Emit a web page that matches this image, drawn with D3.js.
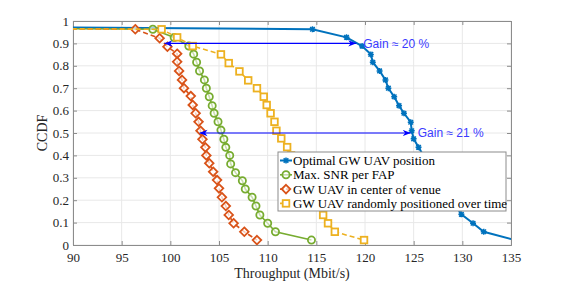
<!DOCTYPE html>
<html>
<head>
<meta charset="utf-8">
<script src="https://cdn.jsdelivr.net/npm/d3@7"></script>
<style>
  html, body { margin: 0; padding: 0; background: #fff; }
  svg { display: block; }
</style>
</head>
<body>
<div id="chart"></div>
<script>
// throughput (Mbit/s) and CCDF values
const optX = [80, 114.6, 118.1, 119.7, 120.6, 120.8, 121.5, 122.1, 122.4, 123.0, 123.5, 124.0, 124.7, 124.8, 125.0, 125.5, 126.0, 126.4, 126.9, 127.5, 128.1, 128.7, 129.3, 129.9, 131.1, 132.2, 136.0];
const optY = [0.975, 0.963, 0.927, 0.888, 0.851, 0.816, 0.777, 0.737, 0.700, 0.662, 0.622, 0.588, 0.548, 0.510, 0.474, 0.436, 0.400, 0.363, 0.326, 0.289, 0.252, 0.215, 0.178, 0.137, 0.097, 0.059, 0.015];

const snrX = [80, 98.2, 100.4, 101.9, 102.4, 102.7, 103.0, 103.5, 103.7, 104.0, 104.3, 104.5, 104.9, 105.2, 105.5, 105.7, 106.1, 106.2, 106.7, 107.4, 107.7, 108.4, 108.8, 109.2, 110.0, 110.8, 114.5];
const snrY = [0.968, 0.963, 0.926, 0.888, 0.852, 0.816, 0.777, 0.737, 0.700, 0.662, 0.622, 0.588, 0.550, 0.513, 0.472, 0.436, 0.400, 0.362, 0.323, 0.287, 0.250, 0.213, 0.174, 0.134, 0.097, 0.059, 0.022];

const ctrX = [80, 96.4, 98.9, 99.7, 100.7, 100.7, 100.9, 101.2, 101.4, 102.1, 102.3, 102.6, 102.9, 103.1, 103.3, 103.6, 103.7, 104.0, 104.4, 104.8, 105.0, 105.3, 105.7, 106.0, 106.5, 107.6, 108.9];
const ctrY = [0.967, 0.963, 0.923, 0.885, 0.854, 0.818, 0.777, 0.737, 0.700, 0.665, 0.625, 0.588, 0.550, 0.510, 0.472, 0.436, 0.400, 0.365, 0.327, 0.290, 0.253, 0.213, 0.174, 0.134, 0.097, 0.059, 0.022];

const rndX = [80, 99.1, 100.7, 102.3, 105.2, 106.0, 107.1, 108.0, 108.9, 109.6, 109.9, 110.3, 110.7, 110.9, 111.4, 112.0, 112.4, 112.9, 113.3, 113.8, 114.3, 114.8, 115.3, 115.7, 116.2, 116.9, 119.9];
const rndY = [0.967, 0.963, 0.927, 0.888, 0.851, 0.812, 0.775, 0.735, 0.700, 0.662, 0.625, 0.588, 0.550, 0.510, 0.476, 0.437, 0.400, 0.362, 0.325, 0.288, 0.250, 0.212, 0.174, 0.134, 0.097, 0.059, 0.022];

const xTicks = [90, 95, 100, 105, 110, 115, 120, 125, 130, 135];
const yTicks = [0, 0.1, 0.2, 0.3, 0.4, 0.5, 0.6, 0.7, 0.8, 0.9, 1];

const seriesNames = ['Optimal GW UAV position', 'Max. SNR per FAP', 'GW UAV in center of venue', 'GW UAV randomly positioned over time'];
const seriesColors = ['#0072BD', '#77AC30', '#D95319', '#EDB120'];

const gains = [
  { x0: 99.4, x1: 119.1, y: 0.9, label: 'Gain \u2248 20 %' },
  { x0: 103.0, x1: 124.7, y: 0.5, label: 'Gain \u2248 21 %' }
];

const width = 565, height = 283;
const margin = { top: 21, right: 54, bottom: 38, left: 73 };
const serif = '"Liberation Serif", "Times New Roman", serif';

const svg = d3.select('#chart').append('svg')
  .attr('width', width).attr('height', height)
  .attr('font-family', serif);

const x = d3.scaleLinear().domain([90, 135]).range([margin.left, width - margin.right]);
const y = d3.scaleLinear().domain([0, 1]).range([height - margin.bottom, margin.top]);

svg.append('defs').append('clipPath').attr('id', 'clip')
  .append('rect')
  .attr('x', margin.left).attr('y', margin.top)
  .attr('width', x(135) - x(90)).attr('height', y(0) - y(1));

// grid
const grid = svg.append('g').attr('stroke', '#e8e8e8').attr('stroke-width', 1);
grid.selectAll('line.gx').data(xTicks).join('line')
  .attr('x1', d => x(d)).attr('x2', d => x(d)).attr('y1', y(0)).attr('y2', y(1));
grid.selectAll('line.gy').data(yTicks).join('line')
  .attr('y1', d => y(d)).attr('y2', d => y(d)).attr('x1', x(90)).attr('x2', x(135));

// axes
const axisCol = '#262626';
const gx = svg.append('g').attr('transform', `translate(0,${y(0)})`)
  .call(d3.axisBottom(x).tickValues(xTicks).tickSize(-4).tickPadding(6));
const gxTop = svg.append('g').attr('transform', `translate(0,${y(1)})`)
  .call(d3.axisTop(x).tickValues(xTicks).tickSize(-4).tickFormat(''));
const gy = svg.append('g').attr('transform', `translate(${x(90)},0)`)
  .call(d3.axisLeft(y).tickValues(yTicks).tickSize(-4).tickPadding(4).tickFormat(d => d === 0 || d === 1 ? d : d3.format('.1f')(d)));
const gyR = svg.append('g').attr('transform', `translate(${x(135)},0)`)
  .call(d3.axisRight(y).tickValues(yTicks).tickSize(-4).tickFormat(''));
[gx, gxTop, gy, gyR].forEach(g => {
  g.attr('font-family', serif).attr('font-size', 13);
  g.select('.domain').attr('stroke', '#8c8c8c');
  g.selectAll('.tick line').attr('stroke', '#8c8c8c');
  g.selectAll('.tick text').attr('fill', axisCol);
});
gx.selectAll('.tick text').attr('dy', '0.85em');

svg.append('text').attr('x', (x(90) + x(135)) / 2).attr('y', 278)
  .attr('text-anchor', 'middle').attr('fill', axisCol).attr('font-size', 14)
  .text('Throughput (Mbit/s)');
svg.append('text').attr('transform', `translate(42,${(y(0) + y(1)) / 2}) rotate(-90)`)
  .attr('text-anchor', 'middle').attr('dy', '0.35em').attr('fill', axisCol).attr('font-size', 14)
  .text('CCDF');

// series
const allSeries = [
  { xs: optX, ys: optY, dash: null, marker: 'star', lw: 2 },
  { xs: snrX, ys: snrY, dash: null, marker: 'circle', lw: 1.6 },
  { xs: ctrX, ys: ctrY, dash: '5,3', marker: 'diamond', lw: 1.6 },
  { xs: rndX, ys: rndY, dash: '5,3', marker: 'square', lw: 1.6 }
];

const line = d3.line().x(d => x(d[0])).y(d => y(d[1]));
const plot = svg.append('g').attr('clip-path', 'url(#clip)');

function drawMarker(g, type, color) {
  if (type === 'star') {
    g.append('path').attr('d', 'M-3,0H3M0,-3V3M-2.3,-2.3L2.3,2.3M-2.3,2.3L2.3,-2.3')
      .attr('stroke', color).attr('stroke-width', 1.5).attr('fill', 'none');
  } else if (type === 'circle') {
    g.append('circle').attr('r', 3.6).attr('fill', '#fff').attr('fill-opacity', 0.6)
      .attr('stroke', color).attr('stroke-width', 1.8);
  } else if (type === 'diamond') {
    g.append('path').attr('d', 'M0,-4.3L4.3,0L0,4.3L-4.3,0Z').attr('fill', '#fff').attr('fill-opacity', 0.7)
      .attr('stroke', color).attr('stroke-width', 1.8);
  } else if (type === 'square') {
    g.append('rect').attr('x', -3.3).attr('y', -3.3).attr('width', 6.6).attr('height', 6.6)
      .attr('fill', '#fff').attr('stroke', color).attr('stroke-width', 1.8);
  }
}

allSeries.forEach((s, i) => {
  const pts = s.xs.map((v, k) => [v, s.ys[k]]);
  plot.append('path').datum(pts)
    .attr('d', line).attr('fill', 'none')
    .attr('stroke', seriesColors[i]).attr('stroke-width', s.lw)
    .attr('stroke-dasharray', s.dash);
  plot.selectAll(null).data(pts.slice(1)).join('g')
    .attr('transform', d => `translate(${x(d[0])},${y(d[1])})`)
    .each(function () { drawMarker(d3.select(this), s.marker, seriesColors[i]); });
});

// gain arrows
svg.append('defs').html(
  '<marker id="ah" viewBox="0 0 10 10" refX="10" refY="5" markerWidth="8" markerHeight="8" orient="auto-start-reverse" markerUnits="userSpaceOnUse">' +
  '<path d="M0,1L10,5L0,9L3,5Z" fill="#0000ff"/></marker>');
gains.forEach(gn => {
  svg.append('line')
    .attr('x1', x(gn.x0)).attr('x2', x(gn.x1)).attr('y1', y(gn.y)).attr('y2', y(gn.y))
    .attr('stroke', '#0000ff').attr('stroke-width', 1.2)
    .attr('marker-start', 'url(#ah)').attr('marker-end', 'url(#ah)');
  svg.append('text').attr('x', x(gn.x1) + 7).attr('y', y(gn.y)).attr('dy', '0.35em')
    .attr('fill', '#3a3aff').attr('font-size', 12)
    .attr('font-family', '"Liberation Sans", Arial, sans-serif')
    .text(gn.label);
});

// legend
const lg = svg.append('g').attr('transform', 'translate(278,152)');
lg.append('rect').attr('width', 228).attr('height', 59)
  .attr('fill', '#fff').attr('stroke', '#8c8c8c').attr('stroke-width', 1);
seriesNames.forEach((name, i) => {
  const row = lg.append('g').attr('transform', `translate(0,${8.5 + i * 14.3})`);
  row.append('line').attr('x1', 2).attr('x2', 14).attr('stroke', seriesColors[i])
    .attr('stroke-width', allSeries[i].lw).attr('stroke-dasharray', allSeries[i].dash ? '4,2' : null);
  const m = row.append('g').attr('transform', 'translate(8,0)');
  drawMarker(m, allSeries[i].marker, seriesColors[i]);
  row.append('text').attr('x', 15).attr('dy', '0.35em').attr('fill', '#000')
    .attr('font-size', 13).text(name);
});
</script>
</body>
</html>
